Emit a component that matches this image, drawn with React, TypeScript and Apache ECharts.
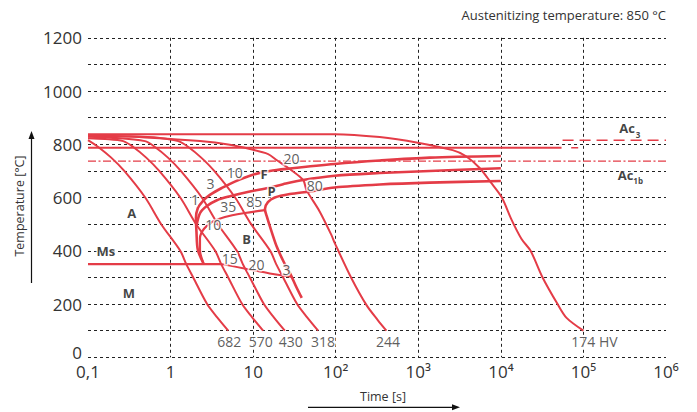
import React, { useEffect, useRef } from 'react';
import * as echarts from 'echarts';

const FONT = '"Open Sans", "DejaVu Sans", sans-serif';
const RED = '#e43c47';
const INK = '#333333';

// x axis: time in seconds (log scale), tick labels per decade
const xTickLabels: Record<string, string> = {
  '-1': '0,1', '0': '1', '1': '10', '2': '10²', '3': '10³', '4': '10⁴', '5': '10⁵', '6': '10⁶',
};
const yLabelStep = 200;

// cooling curves [time s, temperature °C]
const cooling682 = [[0.1, 816], [0.133, 790], [0.191, 750], [0.275, 700], [0.493, 600], [0.77, 500], [1.31, 400], [1.55, 350], [1.88, 300], [2.77, 200], [3.67, 150], [4.99, 100]];
const cooling570 = [[0.1, 823], [0.161, 820], [0.267, 812], [0.353, 790], [0.507, 750], [0.729, 700], [1.31, 600], [2.04, 500], [3.47, 400], [4.1, 350], [4.99, 300], [7.36, 200], [9.73, 150], [13.2, 100]];
const cooling430 = [[0.1, 828], [0.184, 825], [0.49, 812], [0.647, 790], [0.929, 750], [1.33, 700], [2.39, 600], [3.74, 500], [6.35, 400], [7.5, 350], [9.12, 300], [13.5, 200], [17.8, 150], [24.2, 100]];
const cooling318 = [[0.1, 832], [0.322, 830], [0.743, 824], [1.24, 812], [1.64, 790], [2.35, 750], [3.38, 700], [6.05, 600], [9.46, 500], [16.1, 400], [19.0, 350], [23.1, 300], [34.1, 200], [45.1, 150], [61.2, 100]];
const cooling244 = [[0.1, 835], [0.563, 825], [2.27, 812], [5.22, 798], [9.12, 782], [15.2, 763], [19.2, 741], [27.8, 707], [40.3, 666], [44.3, 628], [64.1, 547], [88.8, 459], [97.4, 429], [155, 297], [236, 196], [323, 140], [411, 100]];
const cooling174 = [[0.1, 838], [97, 838], [341, 827], [984, 806], [2606, 778], [3747, 756], [5534, 711], [7516, 658], [10200, 602], [13500, 516], [17800, 444], [22900, 400], [32000, 300], [48600, 200], [62500, 148], [100000, 100]];

// transformation boundaries [time s, temperature °C]
const ferriteStart = [[2.53, 350], [2.14, 403], [2.06, 470], [2.03, 523], [2.14, 561], [2.46, 587], [2.99, 610], [4.18, 636], [6.0, 660], [9.9, 686], [15.9, 700], [27.8, 709], [97, 726], [341, 739], [1370, 750], [10000, 756]];
const pearliteStart = [[2.06, 493], [2.27, 541], [2.75, 568], [3.64, 590], [5.23, 605], [9.12, 623], [15.2, 636], [23.1, 650], [40.3, 666], [97.4, 682], [341, 692], [1370, 700], [10000, 710]];
const transformEnd = [[38.8, 223], [32.9, 268], [27.8, 317], [23.5, 358], [19.4, 414], [16.8, 470], [14.7, 527], [13.9, 557], [15.1, 583], [18.3, 600], [27.8, 613], [48.5, 623], [97.4, 638], [341, 649], [1370, 656], [10000, 662]];
const bainiteBay = [[2.46, 358], [2.27, 403], [2.27, 448], [2.53, 482], [3.17, 508], [4.55, 527], [7.94, 542], [13.9, 553]];
const msLine = [[0.1, 350], [4.18, 350]];
const bainiteFinish = [[4.18, 350], [8.39, 332], [15.9, 315], [30.2, 302]];

// critical temperatures
const ac3Solid = [[0.1, 787], [54300, 787]];
const ac3Short = [[71100, 787], [94000, 787]];
const ac3Dashed = [[55900, 815], [1000000, 815]];
const ac1bLine = [[0.1, 737], [1000000, 737]];

// annotations [time s, temperature °C, text]
const numberLabels: [number, number, string][] = [
  [1.97, 591, '1'], [3.05, 653, '3'], [6.0, 695, '10'], [29.1, 747, '20'],
  [4.98, 566, '35'], [10.3, 584, '85'], [55.8, 647, '80'],
  [3.28, 497, '10'], [5.22, 372, '15'], [11.0, 350, '20'], [25.4, 328, '3'],
];
const hardnessLabels: [number, number, string][] = [
  [5.12, 59, '682'], [12.4, 59, '570'], [28.6, 59, '430'], [70.3, 59, '318'], [430, 59, '244'], [136000, 59, '174 HV'],
];
const phaseLabels: [number, number, string][] = [
  [0.338, 541, 'A'], [0.165, 399, 'Ms'], [0.313, 243, 'M'], [13.6, 688, 'F'], [16.7, 626, 'P'], [8.32, 443, 'B'],
  [337000, 860, 'Ac'], [323200, 685, 'Ac'],
];
const subLabels: [number, number, string][] = [[457800, 838, '3'], [460300, 664, '1b']];

const toXY = (pts: number[][]) => pts.map(([t, T]) => [Math.log10(t), T]);

function lineSeries(pts: number[][], width: number, type: any = 'solid', smooth: number | boolean = 0.3) {
  return {
    type: 'line',
    data: toXY(pts),
    showSymbol: false,
    symbol: 'none',
    smooth,
    lineStyle: { color: RED, width, type },
    silent: true,
    z: 3,
  };
}

function labelSeries(items: [number, number, string][], fontSize: number, fontWeight: string, halo: boolean, color: string) {
  return {
    type: 'scatter',
    data: items.map(([t, T, s]) => [Math.log10(t), T, s]),
    symbolSize: 1,
    itemStyle: { color: 'rgba(0,0,0,0)' },
    silent: true,
    z: 10,
    label: {
      show: true,
      position: 'inside',
      formatter: (p: any) => p.data[2],
      color,
      fontSize,
      fontWeight,
      fontFamily: FONT,
      textBorderColor: halo ? '#ffffff' : 'transparent',
      textBorderWidth: halo ? 3 : 0,
    },
  };
}

export default function App() {
  const ref = useRef<HTMLDivElement>(null);
  useEffect(() => {
    if (!ref.current) return;
    const chart = echarts.init(ref.current, undefined, { renderer: 'svg' });
    const gridLine = { color: '#222', width: 1, type: [3, 3] as any };
    chart.setOption({
      animation: false,
      grid: { left: 88, right: 31, top: 37.8, bottom: 54.7, containLabel: false },
      xAxis: {
        type: 'value', min: -1, max: 6, interval: 1,
        axisLine: { show: false }, axisTick: { show: false },
        splitLine: { show: true, showMinLine: false, showMaxLine: false, lineStyle: gridLine },
        axisLabel: {
          margin: 6, color: INK, fontSize: 17, fontFamily: FONT,
          formatter: (v: number) => xTickLabels[String(Math.round(v))] ?? '',
        },
      },
      yAxis: {
        type: 'value', min: 0, max: 1200, interval: 100,
        axisLine: { show: false }, axisTick: { show: false },
        splitLine: { show: true, lineStyle: gridLine },
        axisLabel: {
          margin: 6, color: INK, fontSize: 17, fontFamily: FONT,
          formatter: (v: number) => (v === 0 ? '{lift|0}' : v % yLabelStep === 0 ? String(v) : ''),
          rich: {
            lift: { color: INK, fontSize: 17, fontFamily: FONT, padding: [0, 0, 10, 0] },
          },
        },
      },
      series: [
        lineSeries(ac3Solid, 2, 'solid', false),
        lineSeries(ac3Short, 1.5, [7, 4], false),
        lineSeries(ac3Dashed, 1.5, [11, 6], false),
        lineSeries(ac1bLine, 1.3, [8, 2.5, 2, 2.5], false),
        lineSeries(cooling682, 2),
        lineSeries(cooling570, 2),
        lineSeries(cooling430, 2),
        lineSeries(cooling318, 2),
        lineSeries(cooling244, 2),
        lineSeries(cooling174, 2),
        lineSeries(ferriteStart, 2.6),
        lineSeries(pearliteStart, 2.6),
        lineSeries(transformEnd, 2.6),
        lineSeries(bainiteBay, 2.2),
        lineSeries(msLine, 2.4, 'solid', false),
        lineSeries(bainiteFinish, 2, 'solid', 0.2),
        labelSeries(numberLabels, 14, 'normal', true, INK),
        labelSeries(hardnessLabels, 14, 'normal', true, INK),
        labelSeries(phaseLabels, 13, 'bold', true, '#111'),
        labelSeries(subLabels, 8, 'bold', false, '#111'),
      ],
      graphic: [
        {
          type: 'text', x: 666, y: 15, z: 20,
          style: { text: 'Austenitizing temperature: 850 °C', fill: INK, fontSize: 13, fontFamily: FONT, align: 'right', verticalAlign: 'middle', textAlign: 'right', textVerticalAlign: 'middle' },
        },
        {
          type: 'line', z: 20,
          shape: { x1: 31.5, y1: 283, x2: 31.5, y2: 138 },
          style: { stroke: '#111', lineWidth: 1.2 },
        },
        {
          type: 'polygon', z: 20,
          shape: { points: [[31.5, 131], [28.5, 139], [34.5, 139]] },
          style: { fill: '#111' },
        },
        {
          type: 'text', x: 19, y: 206, rotation: Math.PI / 2, z: 20,
          style: { text: 'Temperature [°C]', fill: INK, fontSize: 12.5, fontFamily: FONT, align: 'center', verticalAlign: 'middle', textAlign: 'center', textVerticalAlign: 'middle' },
        },
        {
          type: 'line', z: 20,
          shape: { x1: 308, y1: 407.3, x2: 453, y2: 407.3 },
          style: { stroke: '#111', lineWidth: 1.2 },
        },
        {
          type: 'polygon', z: 20,
          shape: { points: [[460, 407.3], [452, 404.3], [452, 410.3]] },
          style: { fill: '#111' },
        },
        {
          type: 'text', x: 383, y: 396, z: 20,
          style: { text: 'Time [s]', fill: INK, fontSize: 12.5, fontFamily: FONT, align: 'center', verticalAlign: 'middle', textAlign: 'center', textVerticalAlign: 'middle' },
        },
      ],
    });
    return () => chart.dispose();
  }, []);
  return <div ref={ref} style={{ width: 697, height: 412, position: 'absolute', left: 0, top: 0 }} />;
}
